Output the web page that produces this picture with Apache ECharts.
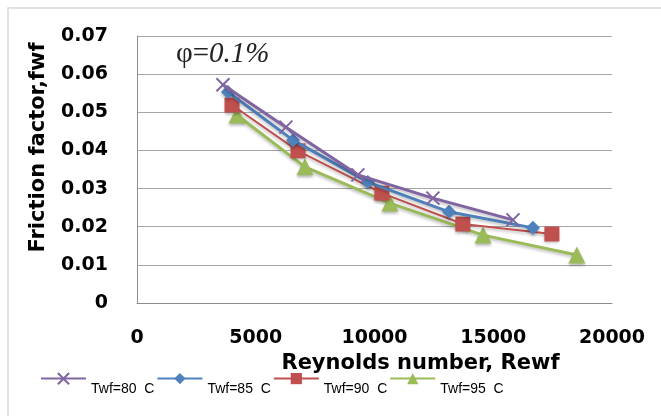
<!DOCTYPE html>
<html>
<head>
<meta charset="utf-8">
<script src="https://cdn.jsdelivr.net/npm/echarts@6/dist/echarts.min.js"></script>
<style>html,body{margin:0;padding:0;background:#fff}#c{width:661px;height:416px}</style>
</head>
<body>
<div id="c"></div>
<script>
const seriesNames = ['Twf=80  C', 'Twf=85  C', 'Twf=90  C', 'Twf=95  C'];
const re80 = [3620, 6270, 9300, 12460, 15830];
const f80  = [0.0572, 0.0461, 0.0336, 0.0275, 0.0218];
const re85 = [3830, 6570, 9720, 13140, 16670];
const f85  = [0.0553, 0.0427, 0.0317, 0.0239, 0.0197];
const re90 = [4000, 6780, 10310, 13720, 17470];
const f90  = [0.0519, 0.0399, 0.0288, 0.0207, 0.0181];
const re95 = [4210, 7070, 10650, 14570, 18520];
const f95  = [0.0493, 0.0357, 0.0262, 0.0178, 0.0126];
const xTicks = [0, 5000, 10000, 15000, 20000];
const yTicks = [0, 0.01, 0.02, 0.03, 0.04, 0.05, 0.06, 0.07];

const colors = ['#8064A2', '#4F81BD', '#C0504D', '#9BBB59'];
const symbols = ['path://M0,0L10,10M10,0L0,10', 'diamond', 'rect', 'triangle'];
const symSizes = [13, 14, 15, 17];
const lineW = [3, 3, 2, 3];
const pairs = (xs, ys) => xs.map((x, i) => [x, ys[i]]);
const dataSets = [pairs(re80, f80), pairs(re85, f85), pairs(re90, f90), pairs(re95, f95)];

const chart = echarts.init(document.getElementById('c'));
const font = 'DejaVu Sans';
chart.setOption({
  animation: false,
  color: colors,
  graphic: [
    { type: 'rect', shape: { x: 8, y: 8, width: 700, height: 500 }, style: { fill: 'none', stroke: '#d9d9d9', lineWidth: 1.5 }, silent: true },
    { type: 'text', left: 176, top: 40, style: {
        text: '{n|φ=}{i|0.1%}',
        rich: {
          n: { fontFamily: 'Liberation Serif', fontSize: 29, fill: '#222' },
          i: { fontFamily: 'Liberation Serif', fontStyle: 'italic', fontSize: 29, fill: '#222' }
        }
    } }
  ],
  grid: { left: 137, right: 49, top: 36, bottom: 113 },
  xAxis: {
    type: 'value', min: xTicks[0], max: xTicks[xTicks.length - 1], interval: 5000,
    name: 'Reynolds number, Rewf', nameLocation: 'middle', nameGap: 42,
    nameTextStyle: { fontFamily: font, fontWeight: 'bold', fontSize: 21, color: '#000', padding: [0, 0, 0, 92] },
    axisLine: { show: true, lineStyle: { color: '#8c8c8c', width: 1 } },
    axisTick: { show: false },
    axisLabel: { margin: 26, fontFamily: font, fontWeight: 'bold', fontSize: 19, color: '#000',
      formatter: v => String(v) },
    splitLine: { show: false }
  },
  yAxis: {
    type: 'value', min: yTicks[0], max: yTicks[yTicks.length - 1], interval: 0.01,
    name: 'Friction factor,fwf', nameLocation: 'middle', nameGap: 88, nameRotate: 90,
    nameTextStyle: { fontFamily: font, fontWeight: 'bold', fontSize: 21, color: '#000', padding: [0, 0, 0, 44] },
    axisLine: { show: true, lineStyle: { color: '#8c8c8c', width: 1 } },
    axisTick: { show: false },
    axisLabel: { margin: 29, fontFamily: font, fontWeight: 'bold', fontSize: 19, color: '#000',
      formatter: v => (v === 0 ? '0' : v.toFixed(2)) },
    splitLine: { show: true, lineStyle: { color: '#a6a6a6', width: 1 } }
  },
  legend: {
    left: 35, top: 367, itemWidth: 45, itemHeight: 14, itemGap: 2,
    formatter: n => '{t|' + n + '}',
    textStyle: { fontFamily: 'Liberation Sans', fontSize: 14, color: '#000',
      rich: { t: { fontFamily: 'Liberation Sans', fontSize: 14, color: '#000', padding: [22, 0, 0, 0] } } },
    data: seriesNames
  },
  series: seriesNames.map((n, i) => ({
    name: n, type: 'line', data: dataSets[i],
    symbol: symbols[i], symbolSize: symSizes[i],
    lineStyle: { width: lineW[i], color: colors[i], shadowBlur: 3, shadowColor: 'rgba(0,0,0,0.25)', shadowOffsetY: 2 },
    itemStyle: i === 0
      ? { color: colors[i], borderColor: colors[i], borderWidth: 2 }
      : { color: colors[i], shadowBlur: 3, shadowColor: 'rgba(0,0,0,0.3)', shadowOffsetY: 2 },
    z: 10 - i
  }))
});
</script>
</body>
</html>
